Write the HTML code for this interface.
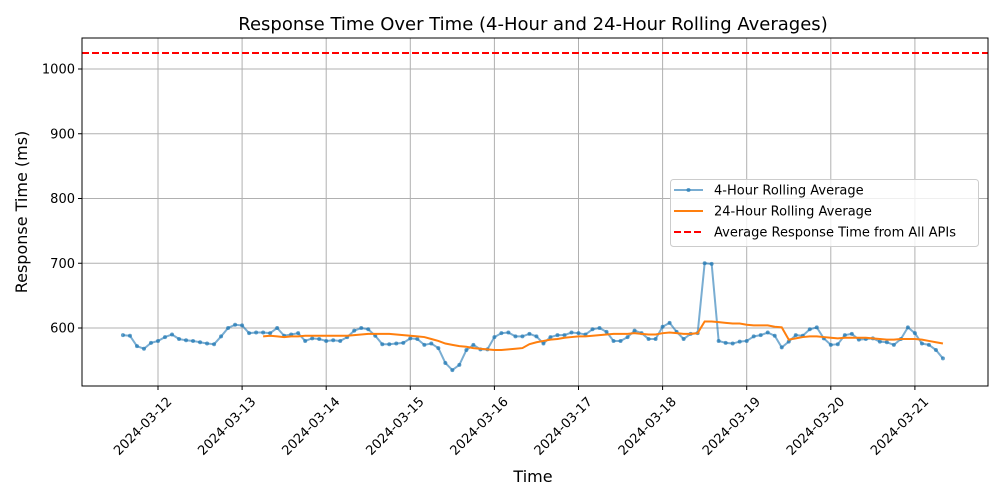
<!DOCTYPE html>
<html><head><meta charset="utf-8"><style>
body{margin:0;background:#fff}
svg{display:block;font-family:"DejaVu Sans","Liberation Sans",sans-serif}
</style></head><body>
<svg id="chart" width="1000" height="500"></svg>
<script>
const tickDates = ["2024-03-12","2024-03-13","2024-03-14","2024-03-15","2024-03-16","2024-03-17","2024-03-18","2024-03-19","2024-03-20","2024-03-21"];
const yTicks = [600,700,800,900,1000];
const startOffsetHours = -10; // first point: 2024-03-11 14:00, relative to 2024-03-12 00:00
const stepHours = 2;
const rolling4h = [589,588,572,568,577,580,586,590,583,581,580,578,576,575,587,600,605,604,592,593,593,592,600,588,590,592,580,584,583,580,581,580,586,596,600,598,588,575,575,576,
577,584,583,574,576,569,546,535,543,566,574,567,567,586,592,593,587,587,591,587,576,586,589,589,593,592,590,598,600,594,580,580,586,596,592,583,583,602,608,594,583,591,592,
700,699,
580,577,576,579,580,587,589,593,588,570,579,589,588,598,601,584,574,575,589,591,582,583,584,579,578,574,583,601,592,576,574,566,553];
const rolling24Start = 20;
const rolling24h = [587,588,587,586,587,587,588,588,588,588,588,588,588,589,590,591,591,591,591,590,589,
588,587,586,583,580,576,574,572,571,569,568,567,566,566,567,568,569,575,578,580,582,583,585,586,587,587,588,589,590,591,591,591,592,591,590,590,592,593,592,591,591,592,
610,610,609,608,607,607,605,604,604,604,602,601,582,584,586,587,587,586,585,584,585,585,585,585,584,583,582,582,583,583,583,582,580,578,576];
const overallAvg = 1024.7;

const NS="http://www.w3.org/2000/svg";
const svg=document.getElementById('chart');
const L=82,R=988,T=38,B=386;
const xScale=h=>158+84.1*h/24;
const yScale=v=>328-(v-600)*0.6475;
function mk(tag,attrs,parent){const e=document.createElementNS(NS,tag);for(const k in attrs)e.setAttribute(k,attrs[k]);(parent||svg).appendChild(e);return e;}

let t=mk('text',{x:533,y:30,'text-anchor':'middle','font-size':18,fill:'#000'});t.textContent='Response Time Over Time (4-Hour and 24-Hour Rolling Averages)';



tickDates.forEach((d,i)=>{
  const x=xScale(i*24);
  const g=mk('line',{x1:x,x2:x,y1:T,y2:B,stroke:'#b0b0b0','stroke-width':1});
  
  
  mk('line',{x1:x,x2:x,y1:B,y2:B+4,stroke:'#000'});
  const lb=mk('text',{x:0,y:0,'text-anchor':'end','font-size':13,fill:'#000',transform:`translate(${x+8},${B+10}) rotate(-45)`,dy:'0.7em'});
  lb.textContent=d;
  
  
});
yTicks.forEach(v=>{
  const y=yScale(v);
  const g=mk('line',{x1:L,x2:R,y1:y,y2:y,stroke:'#b0b0b0','stroke-width':1});
  
  
  mk('line',{x1:L-4,x2:L,y1:y,y2:y,stroke:'#000'});
  const lb=mk('text',{x:L-7,y:y+4.5,'text-anchor':'end','font-size':13,fill:'#000'});
  lb.textContent=v;
  
  
});

const pts4=rolling4h.map((v,i)=>[xScale(startOffsetHours+i*stepHours),yScale(v)]);
const p4=mk('polyline',{points:pts4.map(p=>p.join(',')).join(' '),fill:'none',stroke:'#1f77b4','stroke-opacity':0.6,'stroke-width':2});


pts4.forEach(p=>{const c=mk('circle',{cx:p[0],cy:p[1],r:2,fill:'#1f77b4','fill-opacity':0.7});
  
  });

const pts24=rolling24h.map((v,i)=>[xScale(startOffsetHours+(i+rolling24Start)*stepHours),yScale(v)]);
const p24=mk('polyline',{points:pts24.map(p=>p.join(',')).join(' '),fill:'none',stroke:'#ff7f0e','stroke-width':2});



const ay=yScale(overallAvg);
const al=mk('line',{x1:L,x2:R,y1:ay,y2:ay,stroke:'#ff0000','stroke-width':2,'stroke-dasharray':'7,3'});



const fr=mk('rect',{x:L,y:T,width:R-L,height:B-T,fill:'none',stroke:'#000','stroke-width':1});



let xt=mk('text',{x:533,y:482,'text-anchor':'middle','font-size':16});xt.textContent='Time';


let yt=mk('text',{x:0,y:0,'text-anchor':'middle','font-size':16,transform:'translate(27,212) rotate(-90)'});yt.textContent='Response Time (ms)';



const lg=mk('g',{});


mk('rect',{x:670.5,y:179.5,width:308,height:67,rx:3,fill:'#fff','fill-opacity':0.8,stroke:'#ccc'},lg);
const items=[['4-Hour Rolling Average','#1f77b4',0.6,null],['24-Hour Rolling Average','#ff7f0e',1,null],['Average Response Time from All APIs','#ff0000',1,'7,3']];
items.forEach((it,i)=>{
  const y=190+i*21;
  const e=mk('g',{},lg);
  
  
  const ln=mk('line',{x1:674,x2:703,y1:y,y2:y,stroke:it[1],'stroke-opacity':it[2],'stroke-width':2},e);
  if(it[3])ln.setAttribute('stroke-dasharray',it[3]);
  if(i===0)mk('circle',{cx:688.5,cy:y,r:2,fill:'#1f77b4','fill-opacity':0.7},e);
  const tx=mk('text',{x:714,y:y+4.5,'font-size':13},e);tx.textContent=it[0];
});
</script>
</body></html>
